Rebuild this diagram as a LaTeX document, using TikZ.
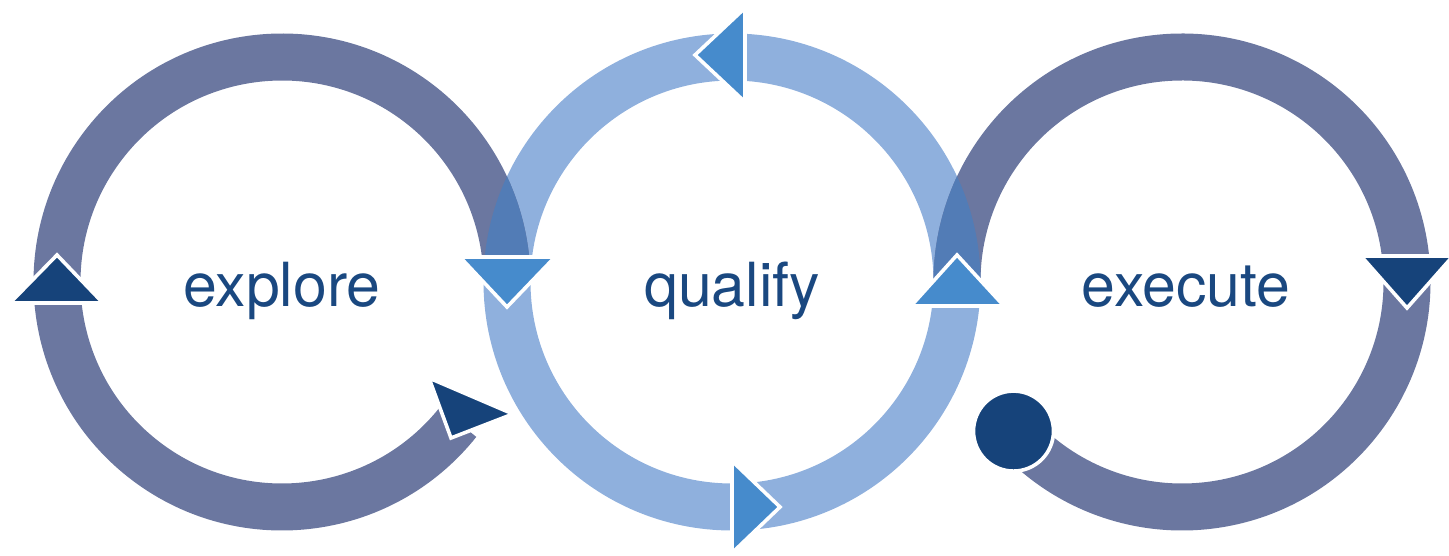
\documentclass[tikz,border=0pt]{standalone}
\usepackage{fontspec}
\setmainfont{TeX Gyre Heros}
\usepackage{tikz}
\usetikzlibrary{calc}
\definecolor{ringDark}{RGB}{107, 119, 160}
\definecolor{ringLight}{RGB}{143, 176, 221}
\definecolor{ringMix}{RGB}{82, 124, 182}
\definecolor{tipDark}{RGB}{22, 67, 122}
\definecolor{tipLight}{RGB}{70, 139, 204}
\definecolor{labelBlue}{RGB}{26, 72, 128}

\begin{document}
\begin{tikzpicture}[x=0.5pt, y=0.5pt,
    ring/.style={line width=23.5pt},
    tip/.style={draw=white, line width=1.8pt, line join=miter},
    word/.style={anchor=base, text=labelBlue, font=\fontsize{30.4}{36}\selectfont}]
        \useasboundingbox (0, 0) rectangle (1449, 556);
        \coordinate (exploreC) at (282, 274);
        \coordinate (qualifyC) at (732, 274);
        \coordinate (executeC) at (1182, 274);

        % rings
        \draw[ring, ringLight] (qualifyC) circle[radius=225];
        \draw[ring, ringDark] ($(exploreC)+(-38.5:225)$) arc[start angle=-38.5, end angle=-356, radius=225];
        \draw[ring, ringDark] ($(executeC)+(184:225)$) arc[start angle=184, end angle=-138.5, radius=225];

        % where the rings cross
        \begin{scope}
            \clip (qualifyC) circle[radius=248.5];
            \draw[ring, ringMix] ($(exploreC)+(-38.5:225)$) arc[start angle=-38.5, end angle=-356, radius=225];
            \draw[ring, ringMix] ($(executeC)+(184:225)$) arc[start angle=184, end angle=-138.5, radius=225];
        \end{scope}

        % arrow heads
        \draw[tip, fill=tipDark] (10, 253) -- (103, 253) -- (57, 301) -- cycle;
        \draw[tip, fill=tipDark] (429, 178) -- (513, 142) -- (451, 118) -- cycle;
        \draw[tip, fill=tipLight] (460, 299) -- (555, 299) -- (507, 249) -- cycle;
        \draw[tip, fill=tipLight] (745, 548) -- (745, 454) -- (695, 501) -- cycle;
        \draw[tip, fill=tipLight] (732, 95) -- (732, 3) -- (780, 49) -- cycle;
        \draw[tip, fill=tipLight] (911, 250) -- (1004, 250) -- (957, 301) -- cycle;
        \draw[tip, fill=tipDark] (1361, 300) -- (1453, 300) -- (1407, 248) -- cycle;
        \draw[tip, fill=tipDark] ($(executeC)+(221.5:225)$) circle[radius=40];

        \node[word] (explore) at (282, 249) {explore};
        \node[word] (qualify) at (732, 249) {qualify};
        \node[word] (execute) at (1186, 249) {execute};
    \end{tikzpicture}
\end{document}
